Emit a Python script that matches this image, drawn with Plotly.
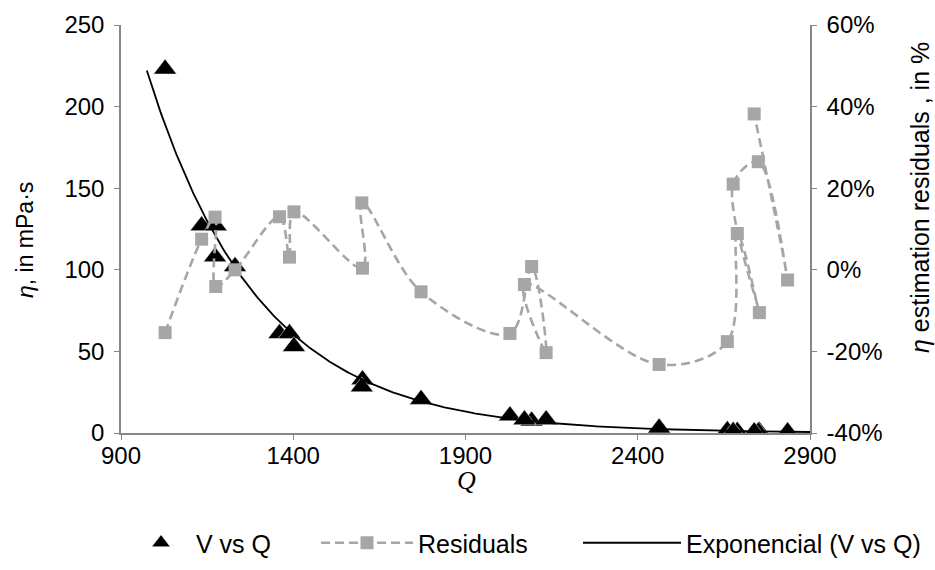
import numpy as np
import plotly.graph_objects as go

# ---- data ----
q_flow = [1028, 1134, 1173, 1175, 1231, 1360, 1389, 1402, 1601, 1599, 1771,
          2029, 2092, 2134, 2071, 2462, 2660, 2689, 2753, 2677, 2750, 2835, 2738]
eta_visc = [223, 127, 108, 127, 102, 61, 61, 53, 32.7, 28.3, 20.6,
            10.5, 7.3, 8.1, 8.1, 3.1, 1.55, 1.08, 1.08, 1.01, 0.77, 0.77, 0.73]
residuals = [-0.154, 0.075, 0.129, -0.041, 0.0, 0.130, 0.031, 0.142, 0.004, 0.164, -0.054,
             -0.156, 0.008, -0.203, -0.036, -0.232, -0.176, 0.089, -0.105, 0.210, 0.265, -0.025, 0.382]

x_ticks = [900, 1400, 1900, 2400, 2900]
y_ticks = [0, 50, 100, 150, 200, 250]
y2_ticks = [-0.4, -0.2, 0.0, 0.2, 0.4, 0.6]
y2_labels = ["-40%", "-20%", "0%", "20%", "40%", "60%"]
trend_span = [975, 2900]

# exponential trendline (least squares on ln(eta), as a spreadsheet does)
b, ln_a = np.polyfit(np.array(q_flow, float), np.log(np.array(eta_visc, float)), 1)
q_fit = np.linspace(trend_span[0], trend_span[1], 400)
eta_fit = np.exp(ln_a + b * q_fit)

FONT = "Liberation Sans, Arial, sans-serif"
AX = "#868686"
GRAY = "#A6A6A6"
TICK_SIZE = 24
LEG_SIZE = 25

L, R, T, B = 121, 125, 25, 137
PW, PH = 935 - L - R, 570 - T - B


def px_x(p):
    return (p - L) / PW


def px_y(p):
    return (570 - B - p) / PH


fig = go.Figure()
fig.add_trace(go.Scatter(
    x=q_flow, y=eta_visc, mode="markers", name="V vs Q", legend="legend",
    marker=dict(symbol="triangle-up", size=20, color="black",
                line=dict(width=0.5, color="white")),
))
fig.add_trace(go.Scatter(
    x=q_fit, y=eta_fit, mode="lines", name="Exponencial (V vs Q)", legend="legend3",
    line=dict(color="black", width=1.8),
))
fig.add_trace(go.Scatter(
    x=q_flow, y=residuals, mode="lines+markers", name="Residuals", yaxis="y2",
    legend="legend2",
    line=dict(color=GRAY, width=2.6, dash="9px,5px", shape="spline", smoothing=1.0),
    marker=dict(symbol="square", size=13, color=GRAY),
))

axis_common = dict(showgrid=False, zeroline=False, showline=True, linecolor=AX,
                   linewidth=1.5, ticks="outside", tickcolor=AX, ticklen=5,
                   tickwidth=1.2, tickfont=dict(family=FONT, size=TICK_SIZE, color="black"))

leg_common = dict(orientation="h", xanchor="left", yanchor="middle", y=px_y(543),
                  font=dict(family=FONT, size=LEG_SIZE, color="black"),
                  bgcolor="rgba(0,0,0,0)", borderwidth=0)

fig.update_layout(
    width=935, height=570,
    margin=dict(l=L, r=R, t=T, b=B, autoexpand=False),
    paper_bgcolor="white", plot_bgcolor="white",
    xaxis=dict(range=[900, 2900], tickvals=x_ticks, ticklabelstandoff=-5, **axis_common),
    yaxis=dict(range=[0, 250], tickvals=y_ticks, ticklabelstandoff=5, **axis_common),
    yaxis2=dict(range=[-0.4, 0.6], tickvals=y2_ticks, ticktext=y2_labels,
                overlaying="y", side="right", ticklabelstandoff=5, **axis_common),
    showlegend=True,
    legend=dict(x=px_x(126), itemwidth=60, **leg_common),
    legend2=dict(x=px_x(316), itemwidth=92, **leg_common),
    legend3=dict(x=px_x(578), itemwidth=98, **leg_common),
    annotations=[
        dict(text="<i>Q</i>", xref="paper", yref="paper",
             x=px_x(467), y=px_y(480), showarrow=False,
             font=dict(family="Liberation Serif, Times New Roman, serif", size=26, color="black"),
             xanchor="center", yanchor="middle"),
        dict(text="<i>η</i>, in mPa·s", xref="paper", yref="paper",
             x=px_x(25), y=px_y(240), showarrow=False, textangle=-90,
             font=dict(family=FONT, size=23, color="black"),
             xanchor="center", yanchor="middle"),
        dict(text="<i>η</i> estimation residuals , in %", xref="paper", yref="paper",
             x=px_x(920), y=px_y(198), showarrow=False, textangle=-90,
             font=dict(family=FONT, size=25, color="black"),
             xanchor="center", yanchor="middle"),
    ],
)

fig.write_html("out.html")
